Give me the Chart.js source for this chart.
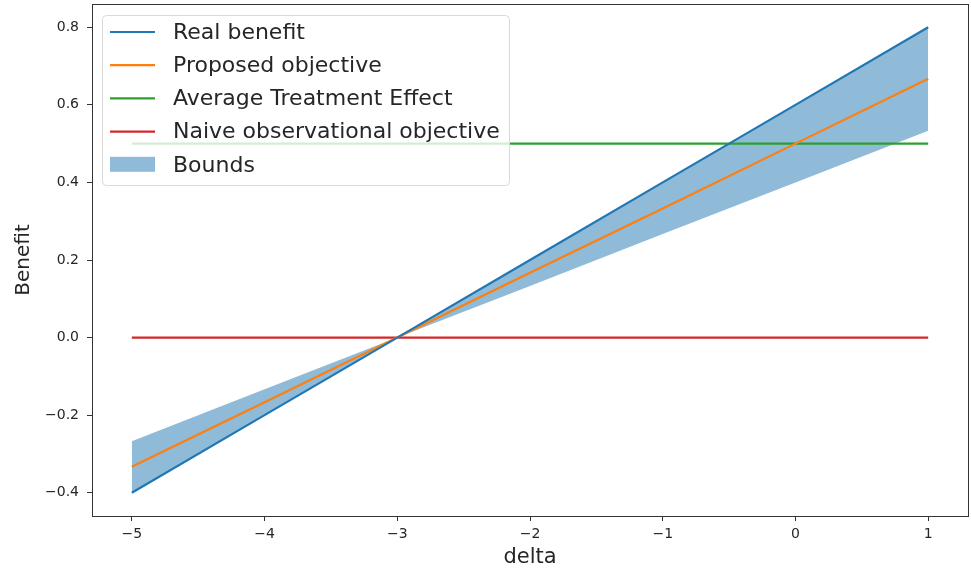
<!DOCTYPE html>
<html>
<head>
<meta charset="utf-8">
<script src="https://cdn.jsdelivr.net/npm/chart.js@4.4.0/dist/chart.umd.min.js"></script>
<style>
  html, body { margin: 0; padding: 0; background: #fff; }
  #wrap { width: 971px; height: 570px; position: relative; }
</style>
</head>
<body>
<div id="wrap"><canvas id="grafico"></canvas></div>
<script>
// valores
const deltas = [-5, -4, -3, -2, -1, 0, 1];
const realBenefit = [-0.4, -0.2, 0.0, 0.2, 0.4, 0.6, 0.8];
const proposedObjective = [-0.333, -0.167, 0.0, 0.167, 0.333, 0.5, 0.667];
const averageTreatment = [0.5, 0.5, 0.5, 0.5, 0.5, 0.5, 0.5];
const naiveObjective = [0, 0, 0, 0, 0, 0, 0];
const boundsUpper = [-0.267, -0.133, 0.0, 0.2, 0.4, 0.6, 0.8];
const boundsLower = [-0.4, -0.2, 0.0, 0.133, 0.267, 0.4, 0.533];
const xTicks = [-5, -4, -3, -2, -1, 0, 1];
const yTicks = [-0.4, -0.2, 0.0, 0.2, 0.4, 0.6, 0.8];

const etiquetas = ['Real benefit', 'Proposed objective', 'Average Treatment Effect', 'Naive observational objective', 'Bounds'];
const colores = ['#1f77b4', '#ff7f0e', '#2ca02c', '#d62728', 'rgba(31,119,180,0.5)'];

const puntos = (ys) => deltas.map((x, i) => ({ x: x, y: ys[i] }));
const menos = (v) => String(v).replace('-', '\u2212');
const fuente = 'DejaVu Sans';
const grisTexto = '#262626';

function linea(nombre, ys, color) {
    return {
        label: nombre,
        data: puntos(ys),
        borderColor: color,
        backgroundColor: color,
        borderWidth: 2.2,
        pointRadius: 0,
        fill: false,
        tension: 0
    };
}

// marco y leyenda dentro del area
const marcoYLeyenda = {
    id: 'marcoYLeyenda',
    afterDraw(chart) {
        const { ctx, chartArea: a } = chart;
        ctx.save();
        ctx.strokeStyle = '#333';
        ctx.lineWidth = 1;
        ctx.strokeRect(Math.round(a.left) + 0.5, Math.round(a.top) + 0.5,
            Math.round(a.right - a.left), Math.round(a.bottom - a.top));

        const bx = 102, by = 15, bw = 407, bh = 170;
        ctx.beginPath();
        ctx.roundRect(bx + 0.5, by + 0.5, bw, bh, 4);
        ctx.fillStyle = 'rgba(255,255,255,0.8)';
        ctx.fill();
        ctx.strokeStyle = '#d9d9d9';
        ctx.stroke();

        ctx.font = '22px "' + fuente + '"';
        ctx.textBaseline = 'middle';
        ctx.fillStyle = grisTexto;
        etiquetas.forEach((t, i) => {
            const y = 32 + i * 33.2;
            if (i < 4) {
                ctx.strokeStyle = colores[i];
                ctx.lineWidth = 2.2;
                ctx.beginPath();
                ctx.moveTo(110, y);
                ctx.lineTo(155, y);
                ctx.stroke();
            } else {
                ctx.fillStyle = colores[i];
                ctx.fillRect(110, y - 8, 45, 15);
                ctx.fillStyle = grisTexto;
            }
            ctx.fillText(t, 173, y + 1);
        });
        ctx.restore();
    }
};

const ctx = document.getElementById('grafico').getContext('2d');
new Chart(ctx, {
    type: 'line',
    data: {
        datasets: [
            linea(etiquetas[0], realBenefit, colores[0]),
            linea(etiquetas[1], proposedObjective, colores[1]),
            linea(etiquetas[2], averageTreatment, colores[2]),
            linea(etiquetas[3], naiveObjective, colores[3]),
            {
                label: 'Bounds upper',
                data: puntos(boundsUpper),
                borderWidth: 0,
                borderColor: 'rgba(0,0,0,0)',
                pointRadius: 0,
                backgroundColor: colores[4],
                fill: '+1'
            },
            {
                label: 'Bounds lower',
                data: puntos(boundsLower),
                borderWidth: 0,
                borderColor: 'rgba(0,0,0,0)',
                pointRadius: 0,
                backgroundColor: colores[4],
                fill: false
            }
        ]
    },
    options: {
        responsive: true,
        maintainAspectRatio: false,
        animation: false,
        layout: { padding: { top: 4, right: 3, left: 0, bottom: 0 } },
        plugins: {
            legend: { display: false },
            tooltip: { enabled: false },
            filler: { drawTime: 'beforeDatasetsDraw' }
        },
        scales: {
            x: {
                type: 'linear',
                min: -5.3,
                max: 1.3,
                afterBuildTicks: (s) => { s.ticks = xTicks.map(v => ({ value: v })); },
                afterFit: (s) => { s.height = 54; s.paddingLeft = 0; s.paddingRight = 0; },
                grid: { drawOnChartArea: false, tickLength: 5, tickColor: '#333', tickWidth: 1 },
                border: { display: true, color: '#333' },
                ticks: {
                    color: grisTexto,
                    font: { family: fuente, size: 14 },
                    padding: 5,
                    maxRotation: 0,
                    callback: (v) => menos(v)
                },
                title: {
                    display: true,
                    text: 'delta',
                    color: grisTexto,
                    font: { family: fuente, size: 21 },
                    padding: { top: 0, bottom: 0 }
                }
            },
            y: {
                type: 'linear',
                min: -0.46,
                max: 0.86,
                afterBuildTicks: (s) => { s.ticks = yTicks.map(v => ({ value: v })); },
                afterFit: (s) => { s.width = 92; s.paddingTop = 0; s.paddingBottom = 0; },
                grid: { drawOnChartArea: false, tickLength: 5, tickColor: '#333', tickWidth: 1 },
                border: { display: true, color: '#333' },
                ticks: {
                    color: grisTexto,
                    font: { family: fuente, size: 14 },
                    padding: 8,
                    callback: (v) => menos(v.toFixed(1))
                },
                title: {
                    display: true,
                    text: 'Benefit',
                    color: grisTexto,
                    font: { family: fuente, size: 20 },
                    padding: { top: 12, bottom: 0 }
                }
            }
        }
    },
    plugins: [marcoYLeyenda]
});
</script>
</body>
</html>
